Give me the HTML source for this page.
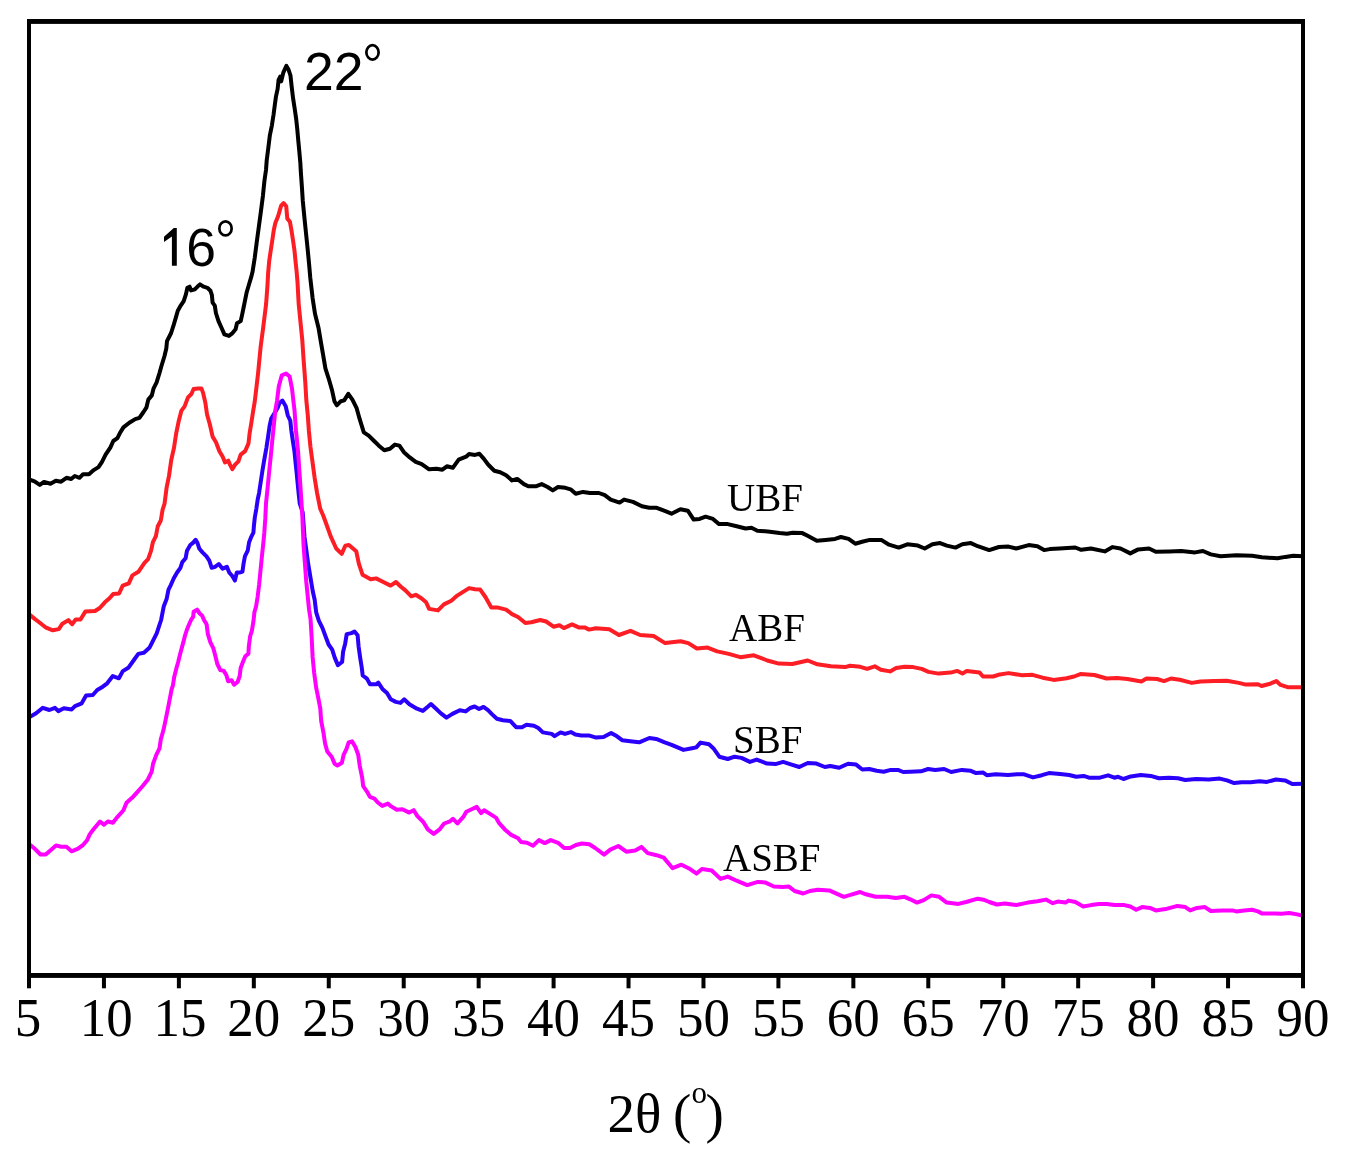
<!DOCTYPE html>
<html><head><meta charset="utf-8"><style>
html,body{margin:0;padding:0;background:#fff;}
body{width:1350px;height:1160px;overflow:hidden;}
svg{display:block;will-change:transform;}
</style></head><body>
<svg width="1350" height="1160" viewBox="0 0 1350 1160">
<rect width="1350" height="1160" fill="#fff"/>
<g fill="none" stroke-linejoin="round" stroke-linecap="round" stroke-width="4.0">
<polyline stroke="#000" points="29.0,479.6 29.7,479.6 34.5,481.3 39.8,484.9 44.0,481.9 50.5,483.7 55.8,480.7 61.1,481.7 66.5,477.8 71.2,479.0 74.8,476.0 79.5,477.8 83.1,474.2 89.0,474.2 93.7,470.1 98.5,467.1 102.0,461.8 105.6,454.7 110.3,447.6 113.3,441.0 117.4,438.1 119.8,433.3 123.4,427.4 129.3,422.7 135.2,419.1 139.4,417.9 143.5,412.0 146.5,407.3 148.3,399.6 151.8,395.4 153.6,388.3 156.6,382.4 159.5,373.0 161.6,365.5 164.5,356.0 166.3,348.5 167.0,341.1 171.1,333.0 173.7,324.8 175.9,317.4 177.8,310.7 180.7,305.6 183.7,301.1 185.9,294.4 187.4,287.8 189.6,286.7 191.1,290.4 194.8,289.3 197.8,286.3 200.0,284.4 203.7,286.7 207.4,287.8 210.4,290.7 211.9,295.2 212.6,302.6 214.8,305.6 215.9,313.0 218.5,321.1 221.5,327.8 224.4,334.4 228.9,335.9 231.9,333.7 235.6,329.3 237.0,323.3 240.7,321.1 242.2,314.4 243.7,307.0 245.2,299.6 246.7,292.2 248.9,284.8 251.1,277.4 252.6,271.5 254.7,258.0 256.7,242.4 258.8,226.9 260.9,211.4 262.9,195.9 264.5,180.3 266.0,170.0 266.7,160.5 268.3,148.1 269.8,135.7 271.9,125.3 273.5,115.0 275.0,103.6 276.0,96.4 277.6,89.1 278.6,79.8 280.2,76.7 281.2,81.4 283.3,72.6 286.4,65.9 288.5,69.5 290.5,75.7 291.6,86.0 293.1,98.4 294.7,108.8 296.2,119.1 297.3,129.5 298.3,140.8 299.3,151.2 300.4,163.6 300.7,170.0 301.8,185.5 302.8,201.0 304.3,216.5 305.9,232.1 307.5,247.6 309.0,263.1 310.3,278.0 312.6,298.1 315.0,313.8 318.6,328.3 321.0,342.7 322.9,353.7 325.4,368.4 328.6,378.3 331.9,389.7 334.4,401.2 336.8,405.3 340.9,401.2 344.2,400.4 348.3,393.8 352.4,399.6 356.5,407.8 359.7,419.2 363.8,432.3 368.7,435.6 373.6,440.5 378.6,445.4 384.3,450.3 390.0,448.7 394.9,444.6 399.4,445.6 403.9,452.2 409.8,457.4 415.7,461.9 421.7,464.1 429.1,469.3 436.5,468.8 442.4,469.7 446.9,466.3 452.8,467.8 458.7,459.6 466.1,456.7 469.1,454.0 475.0,454.9 479.4,453.7 483.9,458.9 488.3,464.8 494.3,470.7 500.2,472.2 506.1,475.2 512.0,480.4 517.2,478.9 523.9,484.1 528.3,486.3 535.7,486.3 541.7,484.1 547.6,487.0 552.8,490.4 558.0,487.0 565.4,487.8 570.6,489.3 575.7,493.7 583.1,491.9 590.0,493.0 598.9,493.0 604.8,495.2 610.7,499.6 619.6,502.6 624.1,499.6 633.0,501.9 641.9,506.3 649.3,507.8 656.7,507.8 664.1,510.7 671.5,513.7 680.4,509.3 687.8,510.7 693.7,519.6 699.6,518.9 705.6,516.7 713.0,518.9 718.9,524.1 727.8,524.1 736.7,526.3 745.6,528.5 751.5,527.8 757.4,530.7 767.8,531.5 779.6,533.0 787.0,533.7 792.7,532.7 802.3,533.1 808.1,536.0 816.8,540.8 825.5,539.9 835.1,538.9 840.9,537.0 848.6,538.9 855.3,543.7 862.1,541.8 869.8,539.9 881.3,539.9 889.0,544.7 898.7,547.6 907.3,544.3 917.9,545.6 924.7,548.5 932.4,544.3 940.1,543.1 946.8,545.6 955.5,547.6 962.3,544.3 970.9,543.1 977.7,546.2 989.2,550.1 998.9,547.0 1008.5,546.6 1016.2,548.5 1028.7,545.1 1037.4,546.2 1044.1,550.1 1049.8,549.1 1059.6,548.5 1075.3,547.5 1081.2,549.8 1091.0,548.5 1104.8,551.4 1112.6,547.1 1120.5,548.5 1130.3,553.4 1138.2,549.4 1149.0,548.5 1155.8,551.8 1169.6,551.4 1181.3,551.0 1195.1,552.4 1202.9,551.0 1210.8,554.4 1220.6,556.3 1236.3,555.3 1252.0,555.7 1261.8,557.3 1277.5,558.3 1285.4,556.9 1293.2,555.7 1303.0,556.3"/>
<polyline stroke="#fd1d25" points="29.5,614.6 34.7,618.9 39.5,622.5 45.5,627.3 52.8,630.3 58.8,629.1 62.4,623.7 68.4,620.1 72.1,624.3 75.7,619.5 80.5,619.5 85.3,611.6 95.0,611.0 99.8,608.0 104.6,602.6 109.5,598.3 113.1,594.1 119.1,593.5 122.7,585.7 128.8,583.3 132.4,575.4 138.4,571.8 144.5,562.8 148.1,559.1 151.1,550.7 152.9,542.2 155.9,536.2 157.7,526.5 160.8,520.5 162.6,509.7 164.5,503.9 166.7,487.1 169.0,475.9 171.2,460.2 174.0,447.8 176.2,433.3 178.5,422.1 181.3,410.9 184.6,406.4 188.0,397.4 191.4,394.0 193.6,389.0 198.1,388.4 201.4,388.4 203.1,392.9 205.4,403.0 207.0,414.2 209.8,424.3 212.6,436.6 216.0,442.2 219.4,451.2 222.7,456.8 225.0,462.4 228.3,460.7 230.0,464.6 232.3,469.1 235.1,464.6 238.4,461.3 240.7,454.6 245.1,451.2 248.5,443.4 249.6,433.3 251.3,423.2 253.0,412.0 254.7,401.9 256.3,388.4 258.0,374.0 260.7,346.3 263.1,328.3 266.1,304.1 267.5,285.0 268.1,273.4 269.2,261.0 270.7,250.7 272.3,240.3 273.8,230.0 275.4,222.8 278.0,216.5 279.5,211.4 281.1,205.7 283.6,203.1 286.2,206.2 287.3,218.6 289.9,221.7 291.4,230.0 293.0,240.3 294.5,250.7 295.5,261.0 296.6,271.4 297.5,282.0 298.7,304.1 300.5,322.2 302.3,340.3 303.5,358.4 305.3,382.5 306.3,400.0 307.8,415.5 308.9,431.0 310.4,446.5 312.5,462.1 314.6,477.6 317.1,493.1 320.2,508.6 323.2,515.5 326.3,524.0 330.8,536.7 336.2,548.5 341.7,553.9 345.3,545.8 348.9,544.9 356.2,551.2 358.9,563.9 362.5,574.7 370.7,579.3 376.1,578.4 383.3,582.0 390.6,585.6 396.0,582.0 400.9,586.7 405.4,590.4 411.3,596.3 415.7,594.8 421.7,598.5 426.1,602.2 429.1,608.9 438.0,610.4 443.9,604.4 451.3,600.7 457.2,595.6 463.1,591.9 469.1,588.1 475.0,589.3 480.2,589.6 485.4,597.0 491.3,607.4 497.2,607.4 506.1,609.6 512.0,614.1 518.0,617.0 525.4,623.0 531.3,622.2 540.2,620.0 546.1,621.5 553.5,626.7 559.4,625.2 563.9,628.1 572.0,624.4 578.7,627.4 584.6,627.4 589.1,629.6 595.8,628.3 609.3,629.3 618.9,635.0 630.5,630.8 640.1,635.0 653.6,636.0 665.1,643.1 680.6,641.2 688.3,643.1 696.9,648.5 707.5,647.6 717.2,651.4 728.7,653.9 740.3,657.2 753.8,655.3 767.3,660.5 778.8,663.6 792.3,664.0 807.7,660.5 817.4,664.3 830.8,666.3 840.5,666.8 845.0,667.1 850.1,665.8 860.3,666.8 867.1,668.9 874.8,666.3 880.8,669.7 890.1,671.4 896.1,668.0 904.6,666.8 913.1,667.1 921.7,668.9 928.5,671.9 938.7,673.6 950.6,672.6 957.4,670.9 962.5,673.6 966.8,670.9 979.6,672.6 983.0,676.5 993.2,676.5 998.3,674.8 1008.5,673.1 1022.2,675.3 1032.4,674.8 1042.6,677.7 1053.7,679.9 1066.5,678.2 1074.1,676.5 1080.4,674.1 1094.4,675.0 1106.6,678.5 1117.0,678.0 1127.4,679.0 1141.4,681.5 1146.6,678.5 1157.0,679.0 1164.0,681.1 1171.0,678.5 1179.7,679.7 1191.8,682.9 1200.5,681.5 1214.5,681.1 1226.7,680.8 1238.8,682.9 1245.8,684.6 1258.0,684.2 1261.5,686.0 1270.2,683.7 1276.3,681.1 1280.6,684.9 1287.6,687.2 1303.0,687.2"/>
<polyline stroke="#2a00fb" points="30.0,716.7 36.1,713.3 42.8,707.8 49.4,710.0 55.0,707.8 58.3,711.1 63.9,708.3 71.7,709.4 75.0,706.1 81.7,703.3 86.1,695.6 92.8,695.0 97.2,690.0 102.8,686.7 107.2,683.3 112.8,676.1 118.9,678.3 122.8,671.1 128.3,667.8 133.9,660.0 138.3,653.9 143.9,652.8 149.4,647.8 152.8,641.1 156.7,633.3 158.9,626.7 161.1,620.0 163.8,606.2 166.6,599.1 168.5,589.6 170.9,584.8 173.8,578.2 177.1,572.5 180.4,567.8 182.3,562.1 185.6,558.3 187.0,550.7 190.3,545.0 193.2,542.6 195.6,539.8 197.5,543.1 199.4,548.8 202.7,552.6 206.5,556.4 209.3,560.6 211.7,567.8 215.0,566.8 218.8,564.0 222.6,568.7 226.9,566.8 229.2,572.5 232.5,576.3 234.9,580.6 236.8,572.5 240.1,572.5 242.5,571.6 243.5,564.0 244.9,556.4 247.7,550.7 249.1,542.2 251.0,537.4 253.4,532.7 253.9,526.0 254.8,517.5 256.3,509.0 257.7,499.5 259.1,492.8 260.8,481.5 262.5,470.3 264.2,460.2 266.4,447.8 268.1,436.6 269.6,426.0 271.2,418.6 274.3,413.4 277.6,407.9 279.5,403.1 282.4,400.6 285.7,406.2 287.8,415.5 290.3,420.7 291.4,431.0 292.9,441.4 294.5,451.7 295.5,462.1 296.6,472.4 297.6,482.8 298.6,493.1 299.7,503.4 302.7,512.5 304.5,536.7 308.2,563.9 312.7,591.0 314.7,600.0 316.2,612.4 318.8,620.7 322.4,627.9 325.5,636.2 328.6,644.5 332.2,649.6 334.8,657.9 337.9,665.1 342.1,662.0 343.1,651.7 345.2,643.4 346.7,634.1 351.4,633.1 354.5,631.5 357.6,635.2 358.6,646.5 360.2,657.9 361.7,667.2 362.7,675.5 366.9,678.6 370.0,684.3 376.2,684.3 378.3,682.7 382.4,688.9 387.0,693.1 390.7,699.3 395.8,701.9 400.5,702.9 404.1,699.3 409.4,704.3 416.9,708.7 422.8,710.9 427.2,707.2 430.9,704.0 436.1,708.7 440.6,713.1 446.5,717.6 452.4,713.9 459.8,710.2 465.7,711.4 470.2,708.0 474.6,706.5 479.1,709.0 483.5,706.9 488.0,710.2 492.4,714.6 496.9,718.8 502.8,720.3 510.2,720.9 516.1,727.2 522.0,727.2 526.5,724.7 533.9,725.7 538.3,728.0 542.8,732.4 551.7,733.9 554.6,736.1 560.6,732.4 565.0,733.9 570.9,732.1 575.4,734.6 581.3,735.4 588.7,735.4 596.1,737.6 603.5,736.9 611.1,732.9 617.0,736.3 622.1,740.2 632.4,741.4 639.2,742.3 649.4,738.0 656.2,738.9 664.7,742.3 671.6,744.8 683.5,749.9 692.0,748.2 696.3,747.4 700.5,742.6 709.0,744.3 713.3,748.2 719.3,756.7 727.8,759.0 734.6,756.7 741.4,757.9 749.9,761.9 756.7,759.6 767.0,763.6 775.5,764.1 783.1,761.9 790.8,764.4 799.3,767.0 807.8,763.0 816.4,763.6 824.9,767.0 830.3,766.0 839.2,767.8 848.1,763.7 856.1,764.6 862.3,769.5 869.4,769.0 876.6,770.8 883.7,771.7 890.8,769.9 897.9,769.9 903.2,772.0 910.3,771.7 921.0,771.3 928.1,769.0 935.2,769.9 944.1,769.0 951.2,772.0 961.9,769.9 970.8,770.8 976.1,773.1 983.2,772.6 986.8,775.2 995.7,774.3 1008.1,774.9 1017.0,774.3 1024.1,774.3 1033.0,777.4 1041.9,775.2 1049.0,773.1 1060.0,774.1 1069.1,775.0 1076.3,776.8 1083.6,775.9 1089.0,777.7 1099.9,777.7 1108.1,775.3 1114.4,777.7 1118.1,776.8 1123.5,779.0 1130.8,776.4 1140.8,775.0 1150.7,775.9 1158.9,778.2 1168.9,777.7 1178.0,778.2 1185.2,780.0 1196.1,778.9 1208.8,779.5 1219.7,778.6 1227.0,780.4 1234.2,783.1 1241.5,782.2 1250.6,782.2 1259.6,781.3 1266.9,781.9 1276.0,779.5 1285.0,780.4 1292.3,784.0 1303.0,783.7"/>
<polyline stroke="#ff00ff" points="30.0,844.8 35.3,849.3 40.5,854.5 45.7,854.5 50.9,850.0 56.0,845.4 61.2,846.7 66.4,846.7 71.6,851.3 78.0,848.7 83.2,844.8 87.1,840.3 89.7,834.4 93.5,829.3 100.0,821.5 103.9,824.7 107.8,821.5 112.9,822.8 116.8,817.6 123.3,810.5 126.5,802.8 132.3,797.6 137.5,791.8 142.7,786.0 147.9,779.5 151.7,771.7 153.0,764.0 156.3,754.9 159.5,748.4 160.8,739.4 163.4,730.3 165.3,721.3 168.3,706.7 171.7,688.9 172.9,685.5 174.2,676.9 176.4,668.3 178.1,662.2 179.8,655.3 181.6,648.4 183.3,642.4 185.0,635.5 186.7,630.3 188.4,626.0 191.0,620.0 193.2,616.6 193.6,611.8 197.1,609.7 199.7,613.5 202.2,615.7 204.0,620.0 206.6,624.3 207.8,633.8 210.4,642.4 213.4,648.4 215.2,655.3 217.3,664.0 220.3,670.0 223.8,670.9 226.4,675.2 228.1,681.2 231.6,680.3 234.1,684.7 237.6,682.0 239.7,676.0 240.6,668.3 242.8,662.2 245.3,656.2 248.4,653.6 248.8,646.7 250.1,636.4 251.8,631.2 253.5,620.9 254.4,612.2 256.1,606.2 257.6,597.0 259.1,584.8 260.5,570.6 261.9,556.4 263.4,542.2 264.3,532.7 265.3,518.4 266.0,503.4 267.6,488.0 269.1,472.4 270.7,456.9 272.2,441.4 273.8,425.9 275.3,410.3 277.0,401.0 278.8,386.2 281.8,375.3 286.0,373.5 289.6,376.5 292.0,388.6 293.4,401.0 294.5,410.3 296.0,431.0 297.1,441.4 298.1,451.7 299.1,467.2 300.2,482.8 301.2,498.3 302.2,513.8 303.6,545.8 306.3,582.0 309.1,610.0 310.5,618.6 311.6,636.2 312.6,656.9 314.1,672.4 316.2,687.9 318.3,698.2 320.3,708.6 321.2,721.2 323.4,732.4 325.1,743.6 327.3,751.5 331.8,757.1 334.6,763.8 337.4,765.5 341.9,762.7 343.6,754.8 346.4,749.2 348.6,742.5 352.0,741.4 355.4,747.0 358.2,754.8 359.8,766.1 362.1,777.3 363.2,786.2 367.1,791.8 369.9,796.9 374.4,798.6 377.8,802.5 382.3,805.9 387.9,803.6 391.2,806.4 396.8,809.8 402.4,809.2 409.2,812.6 413.7,810.2 417.4,816.1 423.3,822.0 427.8,829.4 433.7,833.9 439.6,829.4 444.1,823.5 450.0,821.3 453.0,818.8 457.4,823.5 463.3,816.9 466.3,811.7 472.2,809.0 476.7,806.9 481.1,813.1 484.1,810.2 490.0,813.9 495.9,817.6 498.9,822.8 504.8,829.4 510.7,834.6 518.1,838.3 521.1,842.0 527.0,842.8 533.0,845.7 538.9,840.1 544.8,843.1 550.7,840.1 558.1,842.8 564.1,848.0 570.0,848.0 575.9,845.0 581.9,843.5 589.3,844.3 595.2,848.0 604.1,854.6 610.3,849.6 618.3,846.0 626.3,851.7 635.2,850.4 641.4,846.9 647.7,853.1 656.6,855.2 663.7,857.6 672.6,868.2 681.4,864.7 688.6,868.2 696.6,873.6 701.9,869.1 711.7,870.5 720.6,878.9 727.7,876.6 736.6,880.7 747.2,885.1 757.9,881.9 765.0,882.4 773.9,886.5 782.8,886.9 788.9,886.6 794.6,891.0 803.3,893.5 810.0,891.0 817.8,889.7 829.3,890.4 837.0,893.9 843.8,896.8 850.5,894.9 860.1,892.0 865.9,894.3 875.6,896.8 887.1,896.8 895.8,898.1 904.5,896.8 910.2,899.3 917.0,902.6 923.7,900.1 931.4,895.4 939.1,896.8 946.8,902.6 958.4,903.9 966.1,902.0 977.7,898.7 983.5,899.7 989.2,902.0 996.9,904.5 1004.6,903.5 1016.2,905.1 1027.8,902.6 1037.4,901.2 1045.9,899.6 1052.8,903.2 1057.7,901.6 1065.5,902.6 1068.5,900.6 1075.3,902.0 1083.2,906.5 1091.0,905.1 1098.9,904.0 1106.7,904.0 1114.6,905.1 1124.4,905.1 1130.3,906.5 1136.2,909.8 1142.1,907.1 1149.9,907.9 1155.8,910.4 1165.6,909.1 1177.4,905.9 1185.3,907.1 1190.2,910.4 1197.0,907.9 1204.9,907.1 1210.8,911.0 1222.6,910.4 1232.4,910.4 1236.3,911.4 1244.2,910.4 1252.0,909.8 1257.9,911.4 1261.8,913.4 1275.6,913.4 1281.5,913.8 1289.3,913.0 1297.2,914.4 1303.0,915.7"/>
</g>
<g fill="#000">
<rect x="27" y="19" width="4" height="959"/>
<rect x="1301" y="19" width="4" height="959"/>
<rect x="27" y="19" width="1278" height="4.9"/>
<rect x="27" y="973" width="1278" height="4.9"/>
<rect x="27.00" y="976" width="4" height="12.3"/><rect x="101.94" y="976" width="4" height="12.3"/><rect x="176.88" y="976" width="4" height="12.3"/><rect x="251.82" y="976" width="4" height="12.3"/><rect x="326.76" y="976" width="4" height="12.3"/><rect x="401.71" y="976" width="4" height="12.3"/><rect x="476.65" y="976" width="4" height="12.3"/><rect x="551.59" y="976" width="4" height="12.3"/><rect x="626.53" y="976" width="4" height="12.3"/><rect x="701.47" y="976" width="4" height="12.3"/><rect x="776.41" y="976" width="4" height="12.3"/><rect x="851.35" y="976" width="4" height="12.3"/><rect x="926.29" y="976" width="4" height="12.3"/><rect x="1001.24" y="976" width="4" height="12.3"/><rect x="1076.18" y="976" width="4" height="12.3"/><rect x="1151.12" y="976" width="4" height="12.3"/><rect x="1226.06" y="976" width="4" height="12.3"/><rect x="1301.00" y="976" width="4" height="12.3"/>
</g>
<g transform="translate(0,1036) scale(1,1.035)" font-family="Liberation Serif, serif" font-size="53" text-anchor="middle" fill="#000"><text x="28.00" y="0">5</text><text x="106.34" y="0">10</text><text x="180.08" y="0">15</text><text x="253.82" y="0">20</text><text x="328.76" y="0">25</text><text x="403.71" y="0">30</text><text x="478.65" y="0">35</text><text x="553.59" y="0">40</text><text x="628.53" y="0">45</text><text x="703.47" y="0">50</text><text x="778.41" y="0">55</text><text x="853.35" y="0">60</text><text x="928.29" y="0">65</text><text x="1003.24" y="0">70</text><text x="1078.18" y="0">75</text><text x="1153.12" y="0">80</text><text x="1228.06" y="0">85</text><text x="1303.00" y="0">90</text></g>
<text x="607.5" y="1132" font-family="Liberation Serif, serif" font-size="55" fill="#000">2θ <tspan dx="-2">(</tspan><tspan font-size="31" dy="-29">o</tspan><tspan dx="-1.5" dy="29">)</tspan></text>
<g font-family="Liberation Sans, sans-serif" font-size="53.5" fill="#000">
<text x="304" y="89.8">22</text>
<ellipse cx="372.5" cy="52.35" rx="6.15" ry="7.2" fill="none" stroke="#000" stroke-width="2.7"/>
<path d="M171.9 265.7 L176.8 265.7 L176.8 228 L173.8 228 L164 236.8 L164 241.9 L171.9 236.5 Z"/>
<text x="186.3" y="265.6">6</text>
<ellipse cx="225.5" cy="228.4" rx="6.15" ry="7.05" fill="none" stroke="#000" stroke-width="2.7"/>
</g>
<g font-family="Liberation Serif, serif" font-size="39" fill="#000">
<text x="727" y="511">UBF</text>
<text x="729" y="641">ABF</text>
<text x="733" y="753">SBF</text>
<text x="723" y="871">ASBF</text>
</g>
</svg>
</body></html>
